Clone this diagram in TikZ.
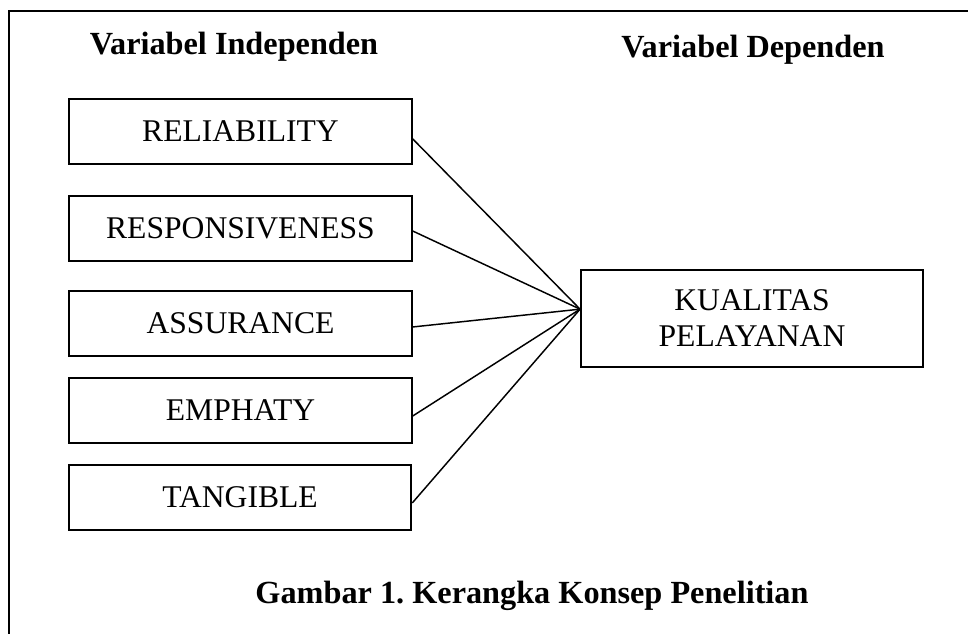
\documentclass[tikz,border=0pt]{standalone}
\usepackage{fontspec}
\setmainfont{Liberation Serif}
\frenchspacing
\begin{document}
\begin{tikzpicture}[x=0.75pt,y=-0.75pt,
  varbox/.style={draw,line width=1.4pt,minimum width=257pt,minimum height=48.75pt,inner sep=0pt,
    font=\fontsize{23.7}{27}\selectfont,align=center},
  depbox/.style={varbox,minimum width=256.5pt,minimum height=72.75pt},
  head/.style={anchor=base,font=\fontsize{24.2}{28}\selectfont\bfseries,inner sep=0pt},
  link/.style={line width=1.1pt}]
\useasboundingbox (0,0) rectangle (968,634);
\fill[white] (0,0) rectangle (968,634);
\coordinate (fbl) at (9,640);
\coordinate (ftl) at (9,11);
\coordinate (ftr) at (975,11);
\draw[line width=1.6pt] (fbl) -- (ftl) -- (ftr);
\node[head] (h1) at (234,55) {Variabel Independen};
\node[head] (h2) at (753,58) {Variabel Dependen};
\node[varbox] (b1) at (240.5,131.5) {RELIABILITY};
\node[varbox] (b2) at (240.5,228.5) {RESPONSIVENESS};
\node[varbox] (b3) at (240.5,323.5) {ASSURANCE};
\node[varbox] (b4) at (240.5,410.5) {EMPHATY};
\node[varbox] (b5) at (240,497.5) {TANGIBLE};
\node[depbox] (k) at (752,318.5) {KUALITAS\\PELAYANAN};
\coordinate (hub) at ([yshift=7pt]k.west);
\draw[link] ([yshift=-5.6pt]b1.east) -- (hub);
\draw[link] ([yshift=-1.9pt]b2.east) -- (hub);
\draw[link] ([yshift=-2.6pt]b3.east) -- (hub);
\draw[link] ([yshift=-4.1pt]b4.east) -- (hub);
\draw[link] ([yshift=-4.1pt]b5.east) -- (hub);
\node[head] (cap) at (532,604) {Gambar 1. Kerangka Konsep Penelitian};
\end{tikzpicture}
\end{document}
